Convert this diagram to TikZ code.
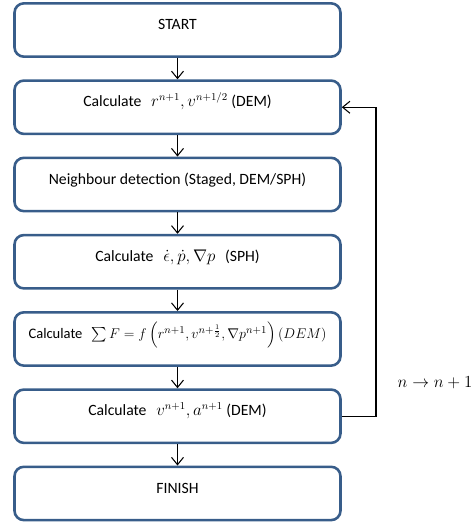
\documentclass[tikz,border=0pt]{standalone}
\usepackage{amsmath,amssymb}
\usepackage{fontspec}
\setmainfont{Carlito}
\usepackage{xcolor}
\usepackage{tikz}
\usetikzlibrary{positioning,arrows.meta}
\definecolor{boxblue}{RGB}{56,93,138}

\begin{document}
\begin{tikzpicture}[font=\fontsize{13.4}{16}\selectfont,
  node distance=0.64cm,
  stepbox/.style={draw=boxblue, line width=2.2pt, rounded corners=8pt,
    minimum width=9.78cm, minimum height=1.6cm, inner sep=0pt,
    text height=0.4cm, text depth=0.42cm},
  flow/.style={-{Straight Barb[length=2.2mm,width=3.6mm]}, line width=0.9pt}]
  \useasboundingbox (0,0) rectangle (14.13,-15.72);
  \node[stepbox] (start) at (5.325,-0.9) {START};
  \node[stepbox, below=of start] (pos) {Calculate \, $r^{n+1}, v^{n+1/2}$ (DEM)};
  \node[stepbox, below=of pos] (nbr) {Neighbour detection (Staged, DEM/SPH)};
  \node[stepbox, below=of nbr] (sph) {Calculate \, $\dot{\epsilon}, \dot{p}, \nabla p$ \, (SPH)};
  \node[stepbox, below=of sph, font=\fontsize{12.4}{14}\selectfont] (force) {Calculate \, $\sum F = f\left(r^{n+1}, v^{n+\frac{1}{2}}, \nabla p^{n+1}\right)(DEM)$};
  \node[stepbox, below=of force] (vel) {Calculate \, $v^{n+1}, a^{n+1}$ (DEM)};
  \node[stepbox, below=of vel] (finish) {FINISH};
  \draw[flow] (start) -- (pos);
  \draw[flow] (pos) -- (nbr);
  \draw[flow] (nbr) -- (sph);
  \draw[flow] (sph) -- (force);
  \draw[flow] (force) -- (vel);
  \draw[flow] (vel) -- (finish);
  % loop back to the next step
  \coordinate (loop) at (11.28,0);
  \draw[flow] (vel.east) -- (vel.east -| loop) -- (pos.east -| loop) -- (pos.east);
  \node (step) at (13.05,-11.49) {$n \rightarrow n+1$};
\end{tikzpicture}
\end{document}
